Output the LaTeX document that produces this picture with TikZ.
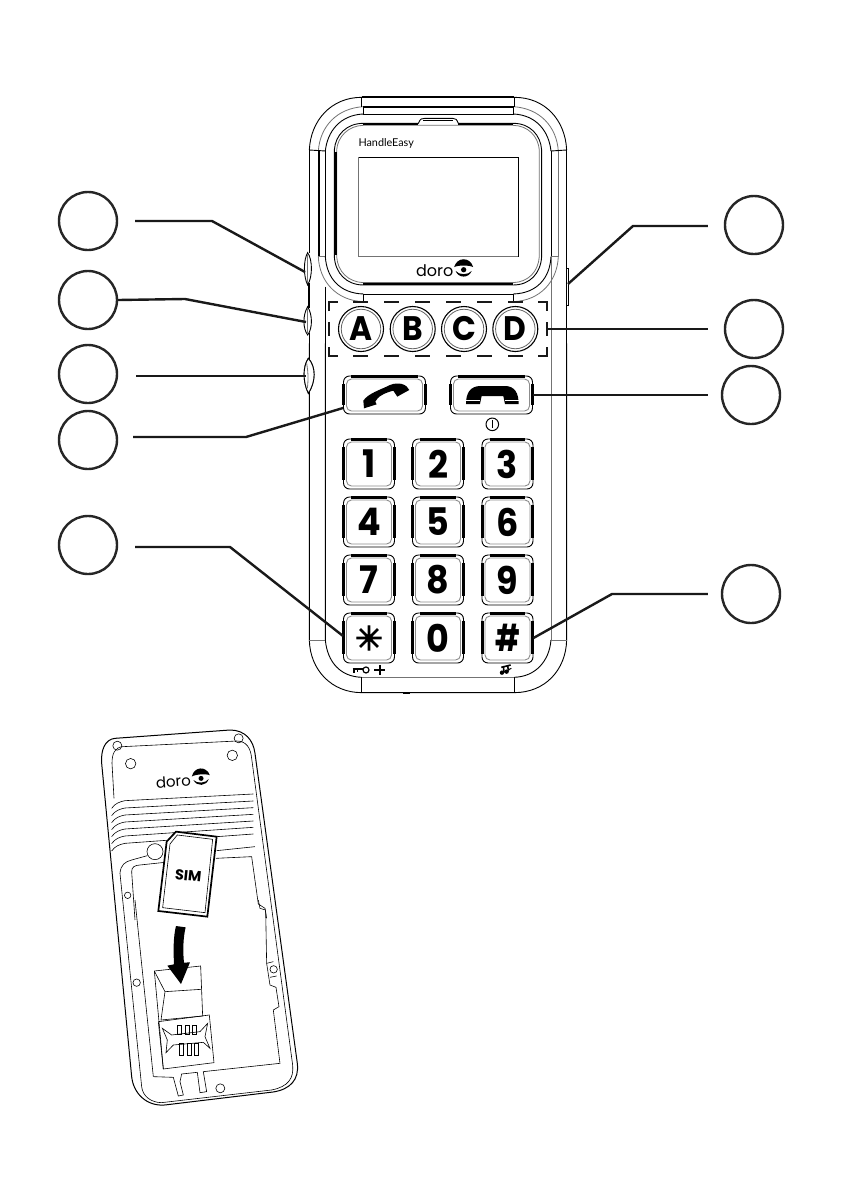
\documentclass[tikz,border=0pt]{standalone}
\usepackage{fontspec}
\setmainfont{Poppins}
\newfontfamily\starf{DejaVu Sans}[FakeBold=3.5]
\newfontfamily\labf{Lato}
\newfontfamily\keyf{Poppins}[FakeStretch=0.92]
\newfontfamily\hashf{Poppins}[FakeStretch=0.74]
\usetikzlibrary{calc}
\tikzset{
 ln/.style={line width=0.9pt,black},
 gl/.style={line width=0.8pt,black!55},
 hv/.style={line width=1.8pt,black},
 th/.style={line width=0.6pt,black},
 leader/.style={line width=2.4pt,black!90,line join=round},
 dashbar/.style={line width=2.7pt,black!90},
 num/.style={circle,draw=black!85,line width=2.4pt,minimum size=58pt,inner sep=0pt},
 keyo/.style={draw=black,line width=0.9pt,rounded corners=6pt,inner sep=0pt,font=\keyf\fontsize{38}{38}\selectfont\bfseries},
 keyi/.style={draw=black!45,line width=0.9pt,rounded corners=5pt,inner sep=0pt},
 keybar/.style={line width=3pt,black},
 abco/.style={circle,draw=black,line width=1.1pt,minimum size=45pt,inner sep=0pt,font=\keyf\fontsize{34}{34}\selectfont\bfseries},
 abci/.style={circle,draw=black!60,line width=.8pt,minimum size=39.5pt,inner sep=0pt},
}
\newcommand{\keyat}[6]{% name,x,y,w,h,label
 \node[keyi,minimum width=#4pt-6pt,minimum height=#5pt-6pt] (#1in) at (#2,#3) {};
 \node[keyo,minimum width=#4pt,minimum height=#5pt] (#1) at (#2,#3) {#6};
 \draw[keybar] ($(#1.north west)+(8,.6)$) -- ($(#1.north east)+(-8,.6)$);
 \draw[keybar] ($(#1.north west)+(.6,8)$) -- ($(#1.south west)+(.6,-9)$);
 \draw[keybar] ($(#1.north east)+(-.6,8)$) -- ($(#1.south east)+(-.6,-9)$);
}
\newcommand{\abcat}[3]{%
 \node[abci] (abc#1in) at (#2,#3) {};
 \node[abco] (abc#1) at (#2,#3) {#1};
}
\newcommand{\eyelogo}[4]{% x,y,scale,rot
 \begin{scope}[shift={(#1,#2)},rotate=#4,x=#3pt,y=#3pt]
  \fill (-1,0.2) .. controls (-.7,1.3) and (.7,1.3) .. (1,0.2) .. controls (.6,.42) and (-.6,.42) .. cycle;
  \fill (-.85,-.2) .. controls (-.55,-1) and (.55,-1) .. (.85,-.2) .. controls (.5,-.66) and (-.5,-.66) .. cycle;
  \fill (0,-.08) circle[radius=.28];
 \end{scope}
}
\begin{document}
\begin{tikzpicture}[x=1pt,y=-1pt]
\useasboundingbox (0,0) rectangle (850,1191);
\fill[white] (0,0) rectangle (850,1191);

% ===== front of phone, upper part (3x zoom coordinates)
\begin{scope}[shift={(290,90)},x=.3333pt,y=-.3333pt]
 \draw[ln] (58,180) .. controls (62,90) and (125,22) .. (215,22) -- (673,22) .. controls (765,22) and (826,90) .. (830,180);
 \draw[gl] (85,183) .. controls (90,110) and (140,55) .. (220,50);
 \draw[gl] (805,183) .. controls (800,110) and (750,55) .. (670,50);
 \draw[ln] (106,183) .. controls (112,125) and (150,75) .. (220,72);
 \draw[ln] (783,183) .. controls (777,125) and (740,75) .. (670,72);
 \draw[hv] (215,22) -- (673,22);
 \draw[ln] (215,22) -- (215,50) (673,22) -- (673,50);
 \draw[hv] (220,50) -- (670,50);
 \draw[ln] (220,50) rectangle (670,72);
 \draw[ln] (58,180) -- (106,183) (783,183) -- (830,180);
 \draw[hv] (88,183) -- (88,500);
 \draw[ln] (106,183) -- (106,500);
 \draw[ln] (783,183) -- (783,500);
 \draw[gl] (805,183) -- (805,500);
 \draw[gl] (85,500) -- (106,500) (783,500) -- (805,500);
 \draw[gl] (85,500) .. controls (88,575) and (140,632) .. (220,635);
 \draw[gl] (805,500) .. controls (802,575) and (750,632) .. (670,635);
 \draw[ln] (106,500) .. controls (110,565) and (150,610) .. (220,612);
 \draw[ln] (783,500) .. controls (780,565) and (740,610) .. (670,612);
 \draw[ln] (220,612) -- (670,612) (220,612) -- (220,635) (670,612) -- (670,635);
 % screen surround
 \draw[ln] (133,180) .. controls (136,135) and (170,100) .. (220,100) -- (385,100) .. controls (392,85) and (395,85) .. (405,85) -- (488,85) .. controls (498,85) and (500,88) .. (505,100) -- (670,100) .. controls (720,100) and (752,135) .. (755,180) -- (755,500) .. controls (752,550) and (720,585) .. (670,585) -- (220,585) .. controls (170,585) and (136,550) .. (133,500) -- cycle;
 \draw[gl] (140,180) .. controls (143,140) and (175,107) .. (220,106) -- (670,106) .. controls (715,107) and (745,140) .. (748,180) -- (748,500) .. controls (745,545) and (715,576) .. (670,578) -- (220,578) .. controls (175,576) and (143,545) .. (140,500) -- cycle;
 \draw[hv] (137,185) -- (137,495) (220,581) -- (670,581) (220,103) -- (385,103) (505,103) -- (670,103);
 \draw[ln] (400,92) -- (490,92);
 \draw[ln] (205,202) rectangle (685,498);
 \draw[gl] (205,498) -- (685,498) (205,202) -- (205,498);
 \node[font=\labf\fontsize{10.8}{10.8}\selectfont,anchor=west,inner sep=0pt] (brand) at (205,160) {HandleEasy};
 \node[font=\fontsize{16}{16}\selectfont,inner sep=0pt] (logo) at (434,541) {doro};
 \eyelogo{521}{537}{9.5}{0}
 % sides
 \draw[ln] (58,180) -- (58,490);
 \draw[ln] (830,180) -- (830,860);
 \draw[ln] (106,590) -- (106,900);
 \draw[gl] (783,500) -- (783,900);
 \draw[ln] (58,730) -- (58,810);
 \draw[line width=2pt] (58,580) -- (58,655);
 \draw[ln,fill=white] (53,488) .. controls (40,510) and (40,560) .. (53,585) .. controls (68,560) and (68,510) .. (53,488) -- cycle;
 \draw[gl] (53,495) -- (53,578);
 \draw[ln,fill=white] (53,650) .. controls (38,675) and (38,715) .. (53,735) .. controls (68,715) and (68,675) .. (53,650) -- cycle;
 \draw[gl] (53,657) -- (53,728);
 \draw[ln,fill=white] (55,805) .. controls (38,830) and (38,875) .. (55,910) .. controls (78,875) and (78,830) .. (55,805) -- cycle;
 \draw[gl] (50,820) .. controls (55,850) and (55,870) .. (52,895);
 \draw[ln,fill=white] (830,535) -- (836,535) -- (836,645) -- (830,645);
\end{scope}

% dashed box round the ABCD keys
\node[minimum width=218pt,minimum height=54pt,inner sep=0pt] (abcbox) at (438,329) {};
\draw[dashbar] (329,311) -- (329,302) -- (338,302);
\draw[dashbar] (538,302) -- (547,302) -- (547,311);
\draw[dashbar] (329,347) -- (329,356) -- (338,356);
\draw[dashbar] (538,356) -- (547,356) -- (547,347);
\foreach \x in {353,384,415,446,477,508}{
 \draw[dashbar] (\x,302) -- (\x+15,302);
 \draw[dashbar] (\x,356) -- (\x+15,356);
}
\draw[dashbar] (329,322) -- (329,336);
\draw[dashbar] (547,322) -- (547,336);

% ABCD keys
\abcat{A}{361}{329}
\abcat{B}{412.7}{329}
\abcat{C}{464}{329}
\abcat{D}{515.3}{329}

% ===== front of phone, lower part
\begin{scope}[shift={(290,370)},x=.3333pt,y=-.3333pt]
 \draw[ln] (58,-80) -- (58,810) .. controls (60,900) and (125,968) .. (215,968) -- (673,968) .. controls (765,968) and (828,900) .. (830,810) -- (830,-80);
 \draw[ln] (106,-80) -- (106,810) .. controls (112,875) and (150,920) .. (215,922);
 \draw[gl] (783,-80) -- (783,810);
 \draw[gl] (215,922) -- (673,922);
 \draw[ln] (673,922) .. controls (735,920) and (778,875) .. (783,810);
 \draw[gl] (58,810) -- (106,810) (783,810) -- (830,810);
 \draw[ln] (215,922) -- (215,968) (673,922) -- (673,968);
 \draw[hv] (340,968) -- (360,968);
 \draw[ln,fill=white] (55,-35) .. controls (38,-10) and (38,35) .. (55,70) .. controls (78,35) and (78,-10) .. (55,-35) -- cycle;
 \draw[gl] (50,-20) .. controls (55,10) and (55,30) .. (52,55);
\end{scope}

% Keys
\keyat{call}{384.5}{395}{82}{38}{}
\keyat{end}{491.5}{395}{82}{38}{}
\keyat{k1}{369}{464}{51}{50}{1}
\keyat{k2}{438}{464}{51}{50}{2}
\keyat{k3}{507.5}{464}{51}{50}{3}
\keyat{k4}{369}{522}{51}{50}{4}
\keyat{k5}{438}{522}{51}{50}{5}
\keyat{k6}{507.5}{522}{51}{50}{6}
\keyat{k7}{369}{580}{51}{50}{7}
\keyat{k8}{438}{580}{51}{50}{8}
\keyat{k9}{507.5}{580}{51}{50}{9}
\keyat{kstar}{369}{638}{51}{50}{\starf\fontsize{33}{33}\selectfont ✳}
\keyat{k0}{438}{638}{51}{50}{0}
\keyat{khash}{507.5}{638}{51}{50}{\hashf\bfseries\fontsize{37}{37}\selectfont\#}

\begin{scope}[shift={(290,370)},x=.3333pt,y=-.3333pt]
 % handsets
 \fill (222,115) -- (220,92) .. controls (235,70) and (270,60) .. (300,45) .. controls (325,35) and (350,42) .. (358,60) -- (336,72) -- (322,80) -- (310,62) .. controls (285,68) and (262,80) .. (256,95) -- (260,103) -- cycle;
 \fill (528,102) .. controls (528,70) and (540,48) .. (572,48) -- (645,48) .. controls (675,48) and (686,70) .. (686,102) -- (645,102) -- (640,78) -- (575,78) -- (570,102) -- cycle;
 \draw[white,line width=.6pt] (528,90) -- (570,90) (645,90) -- (686,90);
 % power
 \draw[line width=1pt] (607,163) circle[radius=6.3pt];
 \draw[line width=1.4pt] (607,151) -- (607,175);
 % lock
 \draw[line width=1.2pt] (228,900) circle[radius=3pt];
 \draw[line width=1.4pt] (188,897) -- (218,897) (192,897) -- (192,910) (202,897) -- (202,906);
 \draw[line width=2pt] (253,900) -- (285,900) (269,885) -- (269,915);
 % ringer
 \draw[line width=1.6pt] (634,892) -- (662,885) (640,888) -- (642,906) (652,886) -- (656,902);
 \fill (636,908) circle[radius=2.2pt] (650,905) circle[radius=2.2pt];
 \draw[line width=1pt] (632,912) -- (664,895);
\end{scope}

% numbered circles
\node[num] (n1) at (88,221) {};
\node[num] (n2) at (88,300) {};
\node[num] (n3) at (88,374) {};
\node[num] (n4) at (88,440) {};
\node[num] (n5) at (88,545) {};
\node[num] (n6) at (754,225) {};
\node[num] (n7) at (754,329) {};
\node[num] (n8) at (751,395) {};
\node[num] (n9) at (751,594) {};

% leader ends
\coordinate (t1) at (305,272);
\coordinate (t2) at (306,322);
\coordinate (t3) at (306,376);
\coordinate (t6) at (568,284);
\draw[leader] ($(n1.east)+(17,0)$) -- (212,221) -- (t1);
\draw[leader] (n2.east) -- (185,299) -- (t2);
\draw[leader] ($(n3.east)+(18,2)$) -- (t3);
\draw[leader] ($(n4.east)+(15,-3)$) -- (246,437) -- (call.west|-0,408);
\draw[leader] ($(n5.east)+(17,2)$) -- (230,547) -- (kstar.west|-0,636);
\draw[leader] ($(n6.west)+(-16,1)$) -- (633,226) -- (t6);
\draw[leader] ($(n7.west)+(-16,0)$) -- (abcbox.east);
\draw[leader] ($(n8.west)+(-13,0)$) -- (end.east);
\draw[leader] ($(n9.west)+(-13,0)$) -- (612,594) -- (khash.east|-0,638);

% ===== back of phone
\begin{scope}[shift={(90,720)},x=.3333pt,y=-.3333pt]
 % outer shell
 \draw[line width=1pt] (75,55) -- (420,30) .. controls (465,30) and (490,60) .. (495,100) -- (622,1030) .. controls (628,1080) and (600,1108) .. (550,1116) -- (225,1155) .. controls (170,1160) and (130,1120) .. (125,1070) -- (35,130) .. controls (32,90) and (45,58) .. (75,55) -- cycle;
 % second line, upper part
 \draw[line width=.6pt] (72,235) -- (66,130) .. controls (66,100) and (75,82) .. (98,80) -- (440,63) .. controls (470,63) and (482,85) .. (485,115) -- (608,1035) .. controls (612,1075) and (595,1100) .. (545,1110) -- (215,1148) .. controls (185,1148) and (158,1130) .. (155,1100) -- (92,480);
 % corners and screw holes
 \draw[th] (82,77) circle[radius=4.5pt];
 \draw[th] (446,55) circle[radius=4.5pt];
 \draw[th] (122,131) circle[radius=5.2pt];
 \draw[th] (427,106) circle[radius=5.2pt];
 \draw[th] (113,526) circle[radius=3.2pt];
 % vents
 \foreach \a/\b in {250/222,272/243,293/263,314/283,335/303,356/322,378/342}{
  \draw[th] (65,\a+15) .. controls (75,\a) and (90,\a-5) .. (105,\a-8) -- (490,\b);
 }
 % cavity
 \draw[th,fill=white] (195,395) circle[radius=8pt];
 \draw[th] (92,480) -- (90,460) .. controls (92,435) and (105,425) .. (125,420) -- (172,407);
 \draw[th] (135,600) -- (125,455) .. controls (125,440) and (135,436) .. (150,435) -- (225,427);
 \draw[th] (380,392) -- (495,380) (378,415) -- (485,410) -- (505,552) -- (525,565) -- (530,595);
 % SIM
 \draw[line width=1.7pt,fill=white] (258,335) -- (380,350) -- (352,590) -- (205,573) -- (230,365) -- cycle;
 \draw[th] (262,345) -- (368,358) -- (345,578) -- (218,563) -- (240,372) -- cycle;
 \node[font=\fontsize{14.5}{14.5}\selectfont\bfseries,rotate=-6,inner sep=0pt] (sim) at (295,467) {SIM};
 \node[font=\fontsize{15}{15}\selectfont,rotate=4,inner sep=0pt] (backdoro) at (250,184) {doro};
 \eyelogo{333}{173}{9}{4}
\end{scope}

\begin{scope}[shift={(90,900)},x=.3333pt,y=-.3333pt]
 \draw[th] (135,0) -- (190,530);
 \draw[th] (190,530) -- (250,532) -- (265,588) -- (280,585) -- (270,545) -- (275,522) -- (322,517) -- (330,578) -- (350,575) -- (340,515) -- (570,490) -- (550,330) -- (567,320) -- (558,262) -- (540,255) -- (530,190) -- (527,30) -- (510,25) -- (505,0);
 \draw[th] (530,190) -- (550,185) (540,232) -- (560,228);
 \draw[th] (391,565) circle[radius=4.5pt];
 \draw[th] (140,248) circle[radius=3.7pt];
 \draw[th] (551,208) circle[radius=3.7pt];
 % slot
 \draw[th] (193,213) -- (332,198) -- (338,348);
 \draw[th] (193,213) -- (220,507) -- (372,488);
 \draw[th] (193,213) -- (225,275) -- (333,268) (225,275) -- (213,360) -- (338,348);
 \draw[th] (205,365) -- (358,345) -- (372,488);
 \draw[th] (205,365) -- (220,507);
 \draw[th] (217,385) -- (245,405) -- (330,395) -- (353,370) -- (345,410) -- (360,445) -- (340,427) -- (250,435) -- (228,458) -- (232,420) -- cycle;
 \foreach \x in {262,285,307}{
  \draw[th] (\x,375) rectangle (\x+13,403);
  \draw[th] (\x+6,430) rectangle (\x+19,465);
 }
 % arrow
 \fill (258,78) -- (287,82) .. controls (280,110) and (278,150) .. (282,188) -- (300,187) -- (273,252) -- (232,197) -- (252,193) .. controls (250,150) and (250,110) .. (258,78) -- cycle;
\end{scope}
\end{tikzpicture}
\end{document}
